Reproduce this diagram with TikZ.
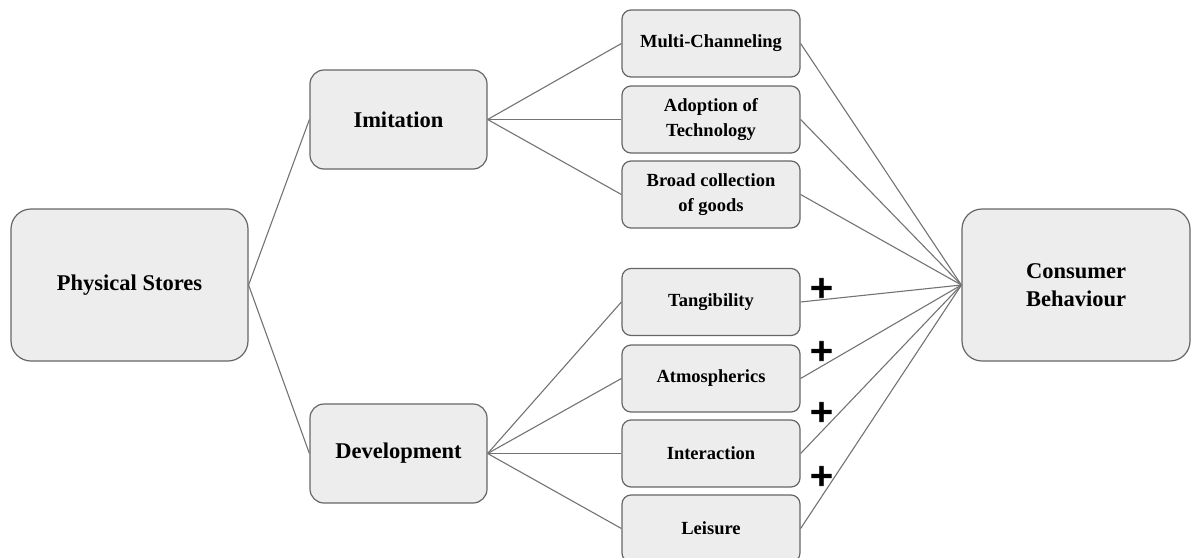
\documentclass[tikz,border=0pt]{standalone}
\usepackage{fontspec}
\setmainfont{Liberation Serif}
\newfontfamily\plusfont[FakeBold=2.5]{DejaVu Sans Bold}
\tikzset{
  box/.style={draw=black!60, fill=black!7, line width=1.2pt, rounded corners=12pt, inner sep=0pt, align=center, font=\bfseries\fontsize{22.5}{28}\selectfont},
  bigbox/.style={box, minimum width=237pt, minimum height=152pt, rounded corners=20pt},
  midbox/.style={box, minimum width=177pt, minimum height=99pt, rounded corners=14pt},
  smallbox/.style={box, minimum width=178pt, minimum height=67pt, rounded corners=9pt, font=\bfseries\fontsize{18.5}{25}\selectfont},
  link/.style={draw=black!55, line width=1.1pt},
  plus/.style={font=\plusfont\fontsize{31}{31}\selectfont, inner sep=0pt}
}
\begin{document}
\begin{tikzpicture}[x=1pt,y=-1pt]
\path[use as bounding box] (0,0) rectangle (1191,557);
\clip (0,0) rectangle (1191,557);
\node[bigbox] (ps) at (129.5,285) {Physical Stores};
\node[bigbox, minimum width=228pt] (cb) at (1076,285) {Consumer\\Behaviour};
\node[midbox] (im) at (398.5,119.5) {Imitation};
\node[midbox] (dev) at (398.5,453.5) {Development};
\node[smallbox] (mc) at (711,43.5) {Multi-Channeling};
\node[smallbox] (at) at (711,119.5) {Adoption of\\Technology};
\node[smallbox] (bc) at (711,194.5) {Broad collection\\of goods};
\node[smallbox] (tg) at (711,302) {Tangibility};
\node[smallbox] (am) at (711,378.5) {Atmospherics};
\node[smallbox] (ia) at (711,453.5) {Interaction};
\node[smallbox] (ls) at (711,528.5) {Leisure};
\draw[link] (ps.east) -- (im.west);
\draw[link] (ps.east) -- (dev.west);
\foreach \n in {mc,at,bc} {
  \draw[link] (im.east) -- (\n.west);
  \draw[link] (\n.east) -- (cb.west);
}
\foreach \n in {tg,am,ia,ls} {
  \draw[link] (dev.east) -- (\n.west);
  \draw[link] (\n.east) -- (cb.west);
}
\node[plus] (p1) at (821.5,288) {+};
\node[plus] (p2) at (821.5,351) {+};
\node[plus] (p3) at (821.5,412) {+};
\node[plus] (p4) at (821.5,476) {+};
\end{tikzpicture}
\end{document}
